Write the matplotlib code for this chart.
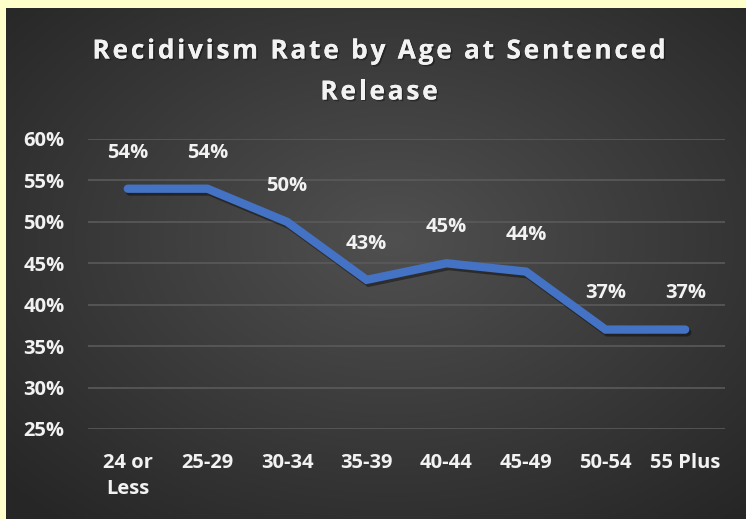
import numpy as np
import matplotlib
matplotlib.use("Agg")
import matplotlib.pyplot as plt
import matplotlib.patheffects as pe
from matplotlib import font_manager
from matplotlib.ft2font import FT2Font, LoadFlags

categories = ["24 or\nLess", "25-29", "30-34", "35-39", "40-44", "45-49", "50-54", "55 Plus"]
rates = [54, 54, 50, 43, 45, 44, 37, 37]
yticks = [25, 30, 35, 40, 45, 50, 55, 60]
title_lines = ["Recidivism Rate by Age at Sentenced", "Release"]

W, H = 746, 519
fig = plt.figure(figsize=(W / 100, H / 100), dpi=100)
fig.patch.set_facecolor("#FFFFCC")

# background panel with radial gradient
bg = fig.add_axes([6 / W, 0, (W - 6) / W, (H - 8) / H])
bg.set_axis_off()
ny, nx = 256, 372
yy, xx = np.mgrid[0:ny, 0:nx]
cx, cy = nx * 0.52, ny * 0.45
r = np.sqrt(((xx - cx) / nx) ** 2 + ((yy - cy) / ny) ** 2) / 0.72
r = np.clip(r, 0, 1)
c0, c1 = 0x50 / 255, 0x26 / 255
val = c0 + (c1 - c0) * r
img = np.dstack([val, val, val])
bg.imshow(img, aspect="auto", extent=[0, 1, 0, 1], interpolation="bilinear")
bg.set_xlim(0, 1)
bg.set_ylim(0, 1)

font = "Open Sans"
txtc = "#F2F2F2"

ax = fig.add_axes([88 / W, 1 - 429 / H, (725 - 88) / W, (429 - 139) / H])
ax.patch.set_alpha(0)
x = np.arange(len(categories))
ax.plot(x, rates, color="#4472C4", lw=6, solid_capstyle="round", solid_joinstyle="miter",
        path_effects=[pe.SimpleLineShadow(offset=(1.5, -2), alpha=0.4, shadow_color="black"), pe.Normal()],
        zorder=3)
for xi, v in zip(x, rates):
    ax.annotate(f"{v}%", (xi, v), xytext=(0, 26), textcoords="offset points",
                ha="center", va="center", color=txtc, fontsize=14.5,
                fontweight="bold", family=font, zorder=4)

ax.set_xlim(-0.5, len(categories) - 0.5)
ax.set_ylim(25, 60)
ax.set_yticks(yticks)
ax.set_yticklabels([f"{t}%" for t in yticks])
ax.set_xticks(x)
ax.set_xticklabels(categories)
ax.grid(axis="y", color="#5A5A5A", lw=1.2)
ax.set_axisbelow(True)
for s in ax.spines.values():
    s.set_visible(False)
ax.tick_params(axis="both", length=0, colors=txtc, labelsize=14.5)
ax.tick_params(axis="y", pad=17)
ax.tick_params(axis="x", pad=17)
for lab in ax.get_xticklabels() + ax.get_yticklabels():
    lab.set_fontweight("bold")
    lab.set_family(font)
    lab.set_color(txtc)
    lab.set_linespacing(1.4)
for lab in ax.get_yticklabels():
    lab.set_horizontalalignment("right")

# title with letter spacing
tsize = 19
spacing = 2.7  # px between characters
fpath = font_manager.findfont(font_manager.FontProperties(family=font, weight="bold"))
ft = FT2Font(fpath)
ft.set_size(tsize, 100)


def advance(ch):
    g = ft.load_char(ord(ch), flags=LoadFlags.NO_HINTING)
    return g.linearHoriAdvance / 65536.0


title_center = 379
baselines = [58.5, 99.5]
shadow = [pe.withSimplePatchShadow(offset=(1.2, -1.2), shadow_rgbFace="black", alpha=0.35), pe.Normal()]
for line, base in zip(title_lines, baselines):
    advs = [advance(c) for c in line]
    total = sum(advs) + spacing * (len(line) - 1)
    pos = title_center - total / 2
    for c, a in zip(line, advs):
        if c != " ":
            fig.text((pos + a / 2) / W, 1 - base / H, c, ha="center", va="baseline",
                     color=txtc, fontsize=tsize, fontweight="bold", family=font,
                     path_effects=shadow)
        pos += a + spacing

fig.savefig("out.png", dpi=100, facecolor=fig.get_facecolor())
